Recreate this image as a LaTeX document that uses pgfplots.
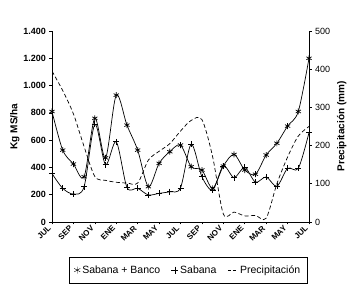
\documentclass[border=0pt]{standalone}
\usepackage{fontspec}
\setmainfont{Liberation Sans}
\usepackage{pgfplots}
\pgfplotsset{compat=1.18}
\begin{document}
\begin{tikzpicture}
\begin{axis}[
  name=ax,
  scale only axis,
  width=257pt, height=191pt,
  xmin=0, xmax=24, ymin=0, ymax=1400,
  axis x line*=bottom, axis y line*=left,
  axis line style={line width=0.7pt},
  xtick={0,2,...,24},
  xticklabels={JUL,SEP,NOV,ENE,MAR,MAY,JUL,SEP,NOV,ENE,MAR,MAY,JUL},
  xticklabel style={rotate=45, anchor=east, font=\fontsize{8}{9}\selectfont\bfseries},
  ytick={0,200,...,1400},
  /pgf/number format/1000 sep={.},
  /pgf/number format/assume math mode=true,
  yticklabel style={font=\fontsize{9}{10}\selectfont\bfseries},
  tick align=outside, major tick length=2.5pt,
  tick style={black, line width=0.6pt},
  ylabel={Kg MS/ha},
  ylabel style={font=\fontsize{10}{12}\selectfont\bfseries, yshift=-3pt},
  legend style={at={(0.53,-0.185)}, anchor=north, legend columns=3, draw=black,
    font=\fontsize{10.5}{12}\selectfont, inner ysep=6pt, inner xsep=5pt,
    /tikz/every even column/.append style={column sep=9pt}},
]
\addplot[smooth, black, line width=0.7pt, mark=asterisk, mark size=3pt, mark options={solid}, forget plot] coordinates {
(0,810) (1,527) (2,425) (3,332) (4,760) (5,470) (6,930) (7,710) (8,527)
(9,259) (10,430) (11,515) (12,564) (13,405) (14,381) (15,247) (16,410)
(17,495) (18,381) (19,350) (20,491) (21,577) (22,703) (23,810) (24,1200)};
\addplot[smooth, black, line width=0.7pt, mark=+, mark size=3pt, mark options={solid}, forget plot] coordinates {
(0,355) (1,247) (2,205) (3,259) (4,715) (5,420) (6,588) (7,254) (8,247)
(9,198) (10,210) (11,222) (12,250) (13,570) (14,332) (15,235) (16,410)
(17,325) (18,400) (19,292) (20,330) (21,262) (22,393) (23,393) (24,655)};
\addlegendimage{only marks, black, mark=asterisk, mark size=3.5pt}
\addlegendentry{Sabana + Banco}
\addlegendimage{only marks, black, mark=+, mark size=3.5pt}
\addlegendentry{Sabana}
\addlegendimage{black, legend image code/.code={\draw[black, line width=0.7pt, dash pattern=on 3pt off 2pt] (0pt,0pt) -- (0.35cm,0pt);}}
\addlegendentry{Precipitación}
\end{axis}
\begin{axis}[
  scale only axis,
  width=257pt, height=191pt,
  xmin=0, xmax=24, ymin=0, ymax=500,
  axis y line*=right, axis x line=none,
  axis line style={line width=0.7pt},
  ytick={0,100,...,500},
  /pgf/number format/assume math mode=true,
  yticklabel style={font=\fontsize{9}{10}\selectfont},
  tick align=outside, major tick length=2.5pt,
  tick style={black, line width=0.6pt},
  ylabel={Precipitación (mm)},
  ylabel style={font=\fontsize{10}{12}\selectfont\bfseries},
]
\addplot[smooth, black, line width=0.7pt, dash pattern=on 4pt off 2.5pt] coordinates {
(0,395) (1,344) (2,283) (3,197) (4,119) (5,109) (6,104) (7,102) (8,102)
(9,162) (10,185) (11,205) (12,238) (13,266) (14,268) (15,171) (16,21)
(17,26) (18,16) (19,17) (20,10) (21,100) (22,170) (23,225) (24,250)};
\end{axis}
\path ([shift={(-52pt,-76pt)}]ax.south west) rectangle ([shift={(52pt,31pt)}]ax.north east);
\end{tikzpicture}
\end{document}
